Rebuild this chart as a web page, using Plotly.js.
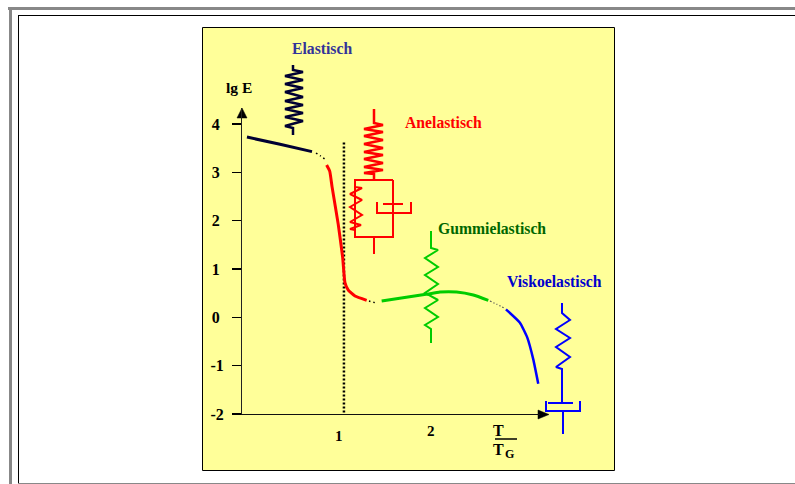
<!DOCTYPE html>
<html><head><meta charset="utf-8">
<script src="https://cdn.plot.ly/plotly-3.0.1.min.js"></script>
<style>html,body{margin:0;padding:0;background:#fff;overflow:hidden}</style>
</head><body><div id="chart" style="width:795px;height:484px"></div>
<script>
// Modulus curve: x = T/TG, y = lg E
const glassX = [0, 0.359, 0.707];
const glassY = [3.73, 3.58, 3.43];
const dots1X = [0.75, 0.80, 0.85];
const dots1Y = [3.40, 3.34, 3.27];
const anelX = [0.866, 0.900, 0.925, 0.992, 1.040, 1.065, 1.101, 1.174, 1.301];
const anelY = [3.151, 3.02, 2.70, 1.924, 1.241, 0.718, 0.565, 0.441, 0.352];
const dots2X = [1.326, 1.391];
const dots2Y = [0.337, 0.304];
const rubberX = [1.464, 1.946, 2.098, 2.279, 2.46, 2.623];
const rubberY = [0.337, 0.476, 0.523, 0.523, 0.461, 0.352];
const dots3X = [2.641, 2.717, 2.804];
const dots3Y = [0.337, 0.269, 0.186];
const viscX = [2.815, 2.967, 3.047, 3.112, 3.166];
const viscY = [0.166, -0.11, -0.42, -0.869, -1.372];
const tgLineX = [1.054, 1.054];
const tgLineY = [3.62, -2];
const yTickVals = [-2, -1, 0, 1, 2, 3, 4];
const yTickText = ['-2', '-1', '0\u00a0', '1\u00a0', '2\u00a0', '3\u00a0', '4\u00a0'];
const xTickVals = [1, 2];
const xTickText = ['1', '2'];
const xTickRow = [436, 431];

// Schematic elements (page-sized sketch axes)
const elasticSpringX = [293,293,303,285,303,285,303,285,303,285,303,285,303,285,303,285,293,293];
const elasticSpringY = [65,70,72,76,80,84,88,92,97,101,105,109,113,117,121,126,128,135];
const anelSpringX = [374,374,383,364,383,364,383,364,383,364,383,364,383,364,383,364,374,374];
const anelSpringY = [109,123,125,129,132,136,140,144,148,152,155,159,163,167,170,173,174,180];
const anelBoxX = [393,355,355,393,393];
const anelBoxY = [180,180,237,237,180];
const anelBox2X = [374,374];
const anelBox2Y = [237,254];
const anelSmallX = [355,355,362,350,362,350,362,350,361,350,355,355];
const anelSmallY = [180,187,188,194,200,207,215,222,225,229,230,237];
const anelRodX = [393,393];
const anelRodY = [180,204];
const anelPlateX = [383,403];
const anelPlateY = [204,204];
const anelCupX = [377,377,411,411];
const anelCupY = [202,213,213,202];
const anelLowX = [393,393];
const anelLowY = [213,237];
const gumSpringX = [431,431,438,425,438,425,438,425,438,425,438,425,431,431];
const gumSpringY = [231,248,250,258,267,275,284,293,300,308,317,325,329,343];
const viscoSpringX = [562,562,570,556,570,556,570,556,562,562];
const viscoSpringY = [303,313,320,329,338,347,357,367,369,403];
const viscoPlateX = [548,573];
const viscoPlateY = [403,403];
const viscoCupX = [546,546,580,580];
const viscoCupY = [401,411,411,401];
const viscoLowX = [563,563];
const viscoLowY = [411,434];
const arrowUpX = [237,242,247,237];
const arrowUpY = [118,108,118,118];
const arrowRightX = [538,549,538,538];
const arrowRightY = [410,414.5,419,410];
const fracX = [495,517];
const fracY = [439,439];

const cEl = '#000033', cRed = '#ff0000', cGrn = '#00cc00', cBlu = '#0000ff';
function sk(x, y, color, width) {
  return {x, y, xaxis:'x', yaxis:'y', mode:'lines', line:{color, width, shape:'linear'}, hoverinfo:'skip', showlegend:false};
}
function cv(x, y, color, width, dash) {
  return {x, y, xaxis:'x2', yaxis:'y2', mode:'lines', line:{color, width, dash:dash||'solid', shape:'spline', smoothing:0.4}, hoverinfo:'skip', showlegend:false};
}
function tri(x, y) {
  return {x, y, xaxis:'x', yaxis:'y', mode:'lines', fill:'toself', fillcolor:'#000', line:{color:'#000', width:0.5}, hoverinfo:'skip', showlegend:false};
}
const traces = [
  sk(elasticSpringX, elasticSpringY, cEl, 2.5),
  sk(anelSpringX, anelSpringY, cRed, 2.5),
  sk(anelBoxX, anelBoxY, cRed, 2),
  sk(anelBox2X, anelBox2Y, cRed, 2),
  sk(anelSmallX, anelSmallY, cRed, 2),
  sk(anelRodX, anelRodY, cRed, 2),
  sk(anelPlateX, anelPlateY, cRed, 2),
  sk(anelCupX, anelCupY, cRed, 2),
  sk(anelLowX, anelLowY, cRed, 2),
  sk(gumSpringX, gumSpringY, cGrn, 2),
  sk(viscoSpringX, viscoSpringY, cBlu, 2),
  sk(viscoPlateX, viscoPlateY, cBlu, 2),
  sk(viscoCupX, viscoCupY, cBlu, 2),
  sk(viscoLowX, viscoLowY, cBlu, 2),
  tri(arrowUpX, arrowUpY),
  tri(arrowRightX, arrowRightY),
  sk(fracX, fracY, '#000', 1.5),
  cv(tgLineX, tgLineY, '#000', 2.5, '2px,2px'),
  cv(glassX, glassY, cEl, 3),
  cv(dots1X, dots1Y, '#000', 1.5, '1.5px,3px'),
  cv(anelX, anelY, cRed, 3),
  cv(dots2X, dots2Y, '#000', 1.5, '1.5px,3px'),
  cv(rubberX, rubberY, cGrn, 3),
  cv(dots3X, dots3Y, '#555', 1.2, '1.5px,2px'),
  cv(viscX, viscY, cBlu, 2.5)
];
const serif = '"Liberation Serif", serif';
function lab(text, x, y, color, size, anchor) {
  return {text:'<b>'+text+'</b>', x, y, xref:'x', yref:'y', showarrow:false, xanchor:anchor||'left', yanchor:'middle',
    font:{family:serif, size, color}};
}
const annotations = [
  lab('Elastisch', 290, 48, '#333399', 15.7),
  lab('Anelastisch', 403, 122, '#ff0000', 15.7),
  lab('Gummielastisch', 436, 228, '#006600', 15.7),
  lab('Viskoelastisch', 505, 281, '#0000cc', 15.7),
  lab('lg E', 224, 87, '#000', 15.5),
  lab('T', 491, 430, '#000', 16),
  lab('T', 491, 449, '#000', 16),
  lab('G', 503, 454, '#000', 12)
].concat(xTickVals.map((v, i) => ({
  text:'<b>'+xTickText[i]+'</b>', x:v, y:xTickRow[i], xref:'x2', yref:'y', showarrow:false, yanchor:'middle',
  font:{family:serif, size:15, color:'#000'}
})));
const rect = (x0, y0, x1, y1, fill, lc, lw) => ({type:'rect', xref:'x', yref:'y', x0, y0, x1, y1, layer:'below', fillcolor:fill, line:{color:lc, width:lw}});
const ln = (x0, y0, x1, y1, c, w) => ({type:'line', xref:'x', yref:'y', x0, y0, x1, y1, layer:'below', line:{color:c, width:w}});
const layout = {
  width:795, height:484, margin:{l:0, r:0, t:0, b:0}, paper_bgcolor:'#fff', plot_bgcolor:'rgba(0,0,0,0)', showlegend:false,
  xaxis:{domain:[0,1], range:[0,795], visible:false, fixedrange:true},
  yaxis:{domain:[0,1], range:[484,0], visible:false, fixedrange:true},
  xaxis2:{domain:[242/795, 540/795], range:[-0.054, 3.185], anchor:'y2', showgrid:false, zeroline:false, showticklabels:false, ticks:'', showline:true, linecolor:'#111', linewidth:1, fixedrange:true},
  yaxis2:{domain:[70/484, 376/484], range:[-2, 4.332], anchor:'x2', showgrid:false, zeroline:false, showline:true, linecolor:'#222', linewidth:1, fixedrange:true,
    tickmode:'array', tickvals:yTickVals, ticktext:yTickText, ticks:'outside', ticklen:9, tickwidth:1.5, tickcolor:'#000', ticklabelstandoff:5,
    tickfont:{family:serif, size:16, color:'#000', weight:'bold'}},
  shapes:[
    ln(8,8.5,795,8.5,'#888',3),
    ln(10.5,7,10.5,484,'#888',3),
    ln(18.5,15,18.5,483,'#000',1),
    ln(18,15.5,795,15.5,'#000',1),
    ln(18,483.5,795,483.5,'#888',1),
    rect(202.5,27.5,614.5,470.5,'#ffff99','#000',1)
  ],
  annotations
};
Plotly.newPlot('chart', traces, layout, {displayModeBar:false, staticPlot:true});
</script></body></html>
